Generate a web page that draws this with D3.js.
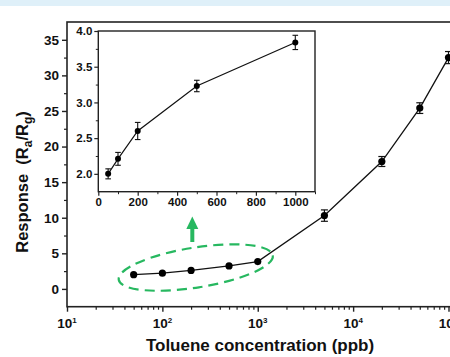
<!DOCTYPE html>
<html>
<head>
  <meta charset="utf-8">
  <title></title>
  <style>
    body { margin: 0; background: #fff; }
    svg { display: block; font-family: "Liberation Sans", Arial, sans-serif; font-weight: bold; }
  </style>
  <script src="https://d3js.org/d3.v7.min.js"></script>
</head>
<body>
  <svg id="chart" width="450" height="357"></svg>
  <script>
    // data
    const conc = [50, 100, 200, 500, 1000, 5000, 20000, 50000, 100000]
    const resp = [2.0, 2.21, 2.6, 3.23, 3.84, 10.3, 17.9, 25.4, 32.5]
    const errs = [0.07, 0.09, 0.12, 0.08, 0.1, 0.8, 0.7, 0.75, 0.85]
    const mainYTicks = [0, 5, 10, 15, 20, 25, 30, 35]
    const mainXTicks = [10, 100, 1000, 10000, 100000]
    const insetXTicks = [0, 200, 400, 600, 800, 1000]
    const insetYTicks = [2.0, 2.5, 3.0, 3.5, 4.0]

    const pts = conc.map((c, i) => ({ c: c, r: resp[i], e: errs[i] }))
    const insetPts = pts.filter(d => d.c <= 1000)

    const svg = d3.select("#chart")

    // light blue strip at the top of the page
    svg.append("rect").attr("x", 0).attr("y", 0).attr("width", 450).attr("height", 6)
      .attr("fill", "#dff0f9")

    // main plot
    const x = d3.scaleLog().domain([10, 100000]).range([67, 448.5])
    const y = d3.scaleLinear().domain([-2.5, 37.5]).range([306.7, 22])

    svg.append("rect")
      .attr("x", 67).attr("y", 22).attr("width", 400).attr("height", 306.7 - 22)
      .attr("fill", "none").attr("stroke", "#222").attr("stroke-width", 1.6)

    // y axis, major + minor ticks
    const yAxis = svg.append("g").attr("transform", "translate(67,0)")
      .call(d3.axisLeft(y).tickValues(mainYTicks).tickSize(5).tickPadding(3).tickFormat(d3.format("d")))
    yAxis.select(".domain").remove()
    yAxis.selectAll("line").attr("stroke", "#222").attr("stroke-width", 1.4)
    yAxis.selectAll("text").attr("font-size", 13.5).attr("font-weight", "bold").attr("fill", "#111")
      .attr("font-family", "Liberation Sans, Arial, sans-serif")
    const yMinor = svg.append("g").attr("transform", "translate(67,0)")
      .call(d3.axisLeft(y).tickValues([2.5, 7.5, 12.5, 17.5, 22.5, 27.5, 32.5]).tickSize(3).tickFormat(""))
    yMinor.select(".domain").remove()
    yMinor.selectAll("line").attr("stroke", "#222").attr("stroke-width", 1.2)

    // x axis (log)
    const xAxis = svg.append("g").attr("transform", "translate(0,306.7)")
      .call(d3.axisBottom(x).tickValues(mainXTicks).tickSize(5).tickFormat(""))
    xAxis.select(".domain").remove()
    xAxis.selectAll("line").attr("stroke", "#222").attr("stroke-width", 1.4)
    const minorX = []
    for (let dec = 10; dec < 100000; dec *= 10) {
      for (let k = 2; k <= 9; k++) minorX.push(dec * k)
    }
    const xMinor = svg.append("g").attr("transform", "translate(0,306.7)")
      .call(d3.axisBottom(x).tickValues(minorX).tickSize(3).tickFormat(""))
    xMinor.select(".domain").remove()
    xMinor.selectAll("line").attr("stroke", "#222").attr("stroke-width", 1.2)

    // power-of-ten labels (the last one is cut by the page edge, as in the figure)
    const xl = svg.append("g").selectAll("text").data(mainXTicks).enter().append("text")
      .attr("x", d => x(d)).attr("y", 328)
      .attr("text-anchor", "middle").attr("font-size", 13.5).attr("fill", "#111")
    xl.append("tspan").text("10")
    xl.append("tspan").attr("dy", -5).attr("font-size", 8).text(d => Math.round(Math.log10(d)))

    // axis titles
    svg.append("text").attr("x", 260).attr("y", 351).attr("text-anchor", "middle")
      .attr("font-size", 17).attr("fill", "#111").text("Toluene concentration (ppb)")
    const yt = svg.append("text").attr("transform", "translate(28,182) rotate(-90)")
      .attr("text-anchor", "middle").attr("font-size", 16.5).attr("fill", "#111")
    yt.append("tspan").text("Response\u00a0\u00a0(R")
    yt.append("tspan").attr("dy", 4).attr("font-size", 12).text("a")
    yt.append("tspan").attr("dy", -4).text("/R")
    yt.append("tspan").attr("dy", 4).attr("font-size", 12).text("g")
    yt.append("tspan").attr("dy", -4).text(")")

    // main line + error bars + markers
    const line = d3.line().x(d => x(d.c)).y(d => y(d.r))
    svg.append("path").datum(pts).attr("d", line)
      .attr("fill", "none").attr("stroke", "#111").attr("stroke-width", 1.3)
    const eb = svg.append("g").selectAll("g").data(pts).enter().append("g")
    eb.append("line").attr("x1", d => x(d.c)).attr("x2", d => x(d.c))
      .attr("y1", d => y(d.r - d.e)).attr("y2", d => y(d.r + d.e)).attr("stroke", "#111").attr("stroke-width", 1.2)
    eb.filter(d => d.c > 1000).selectAll(".cap").data(d => [d.r - d.e, d.r + d.e].map(v => ({ c: d.c, v: v })))
      .enter().append("line")
      .attr("x1", d => x(d.c) - 3.5).attr("x2", d => x(d.c) + 3.5)
      .attr("y1", d => y(d.v)).attr("y2", d => y(d.v)).attr("stroke", "#111").attr("stroke-width", 1.2)
    svg.append("g").selectAll("circle").data(pts).enter().append("circle")
      .attr("cx", d => x(d.c)).attr("cy", d => y(d.r)).attr("r", 3.6).attr("fill", "#000")

    // green dashed ellipse around the low-concentration points
    const green = "#27b860"
    const ecx = x(224), ecy = y(3.0)
    svg.append("ellipse")
      .attr("transform", `translate(${ecx},${ecy}) rotate(-9)`)
      .attr("rx", 78).attr("ry", 20)
      .attr("fill", "none").attr("stroke", green).attr("stroke-width", 2.2)
      .attr("stroke-dasharray", "10,6")

    // green arrow pointing up to the inset
    const ax = x(206)
    svg.append("line").attr("x1", ax).attr("x2", ax).attr("y1", 242).attr("y2", 227)
      .attr("stroke", green).attr("stroke-width", 4)
    svg.append("path")
      .attr("d", `M${ax - 6},229 L${ax},216.5 L${ax + 6},229 Z`).attr("fill", green)

    // inset
    const ix = d3.scaleLinear().domain([0, 1100]).range([98.3, 315])
    const iy = d3.scaleLinear().domain([1.75, 4.0]).range([191.7, 31])
    svg.append("rect").attr("x", 98.3).attr("y", 31).attr("width", 315 - 98.3).attr("height", 191.7 - 31)
      .attr("fill", "#fff").attr("stroke", "#222").attr("stroke-width", 1.4)

    const iyAxis = svg.append("g").attr("transform", "translate(98.3,0)")
      .call(d3.axisLeft(iy).tickValues(insetYTicks).tickSize(4).tickPadding(2).tickFormat(d3.format(".1f")))
    iyAxis.select(".domain").remove()
    iyAxis.selectAll("line").attr("stroke", "#222").attr("stroke-width", 1.2)
    iyAxis.selectAll("text").attr("font-size", 11.5).attr("font-weight", "bold").attr("fill", "#111")
      .attr("font-family", "Liberation Sans, Arial, sans-serif")
    const iyMinor = svg.append("g").attr("transform", "translate(98.3,0)")
      .call(d3.axisLeft(iy).tickValues([2.25, 2.75, 3.25, 3.75]).tickSize(2.5).tickFormat(""))
    iyMinor.select(".domain").remove()
    iyMinor.selectAll("line").attr("stroke", "#222")

    const ixAxis = svg.append("g").attr("transform", "translate(0,191.7)")
      .call(d3.axisBottom(ix).tickValues(insetXTicks).tickSize(4).tickPadding(2).tickFormat(d3.format("d")))
    ixAxis.select(".domain").remove()
    ixAxis.selectAll("line").attr("stroke", "#222").attr("stroke-width", 1.2)
    ixAxis.selectAll("text").attr("font-size", 11.5).attr("font-weight", "bold").attr("fill", "#111")
      .attr("font-family", "Liberation Sans, Arial, sans-serif")
    const ixMinor = svg.append("g").attr("transform", "translate(0,191.7)")
      .call(d3.axisBottom(ix).tickValues([100, 300, 500, 700, 900, 1100]).tickSize(2.5).tickFormat(""))
    ixMinor.select(".domain").remove()
    ixMinor.selectAll("line").attr("stroke", "#222")

    const iline = d3.line().x(d => ix(d.c)).y(d => iy(d.r))
    svg.append("path").datum(insetPts).attr("d", iline)
      .attr("fill", "none").attr("stroke", "#111").attr("stroke-width", 1.2)
    const ieb = svg.append("g").selectAll("g").data(insetPts).enter().append("g")
    ieb.append("line").attr("x1", d => ix(d.c)).attr("x2", d => ix(d.c))
      .attr("y1", d => iy(d.r - d.e)).attr("y2", d => iy(d.r + d.e)).attr("stroke", "#111").attr("stroke-width", 1.1)
    ieb.selectAll(".cap").data(d => [d.r - d.e, d.r + d.e].map(v => ({ c: d.c, v: v })))
      .enter().append("line")
      .attr("x1", d => ix(d.c) - 2.8).attr("x2", d => ix(d.c) + 2.8)
      .attr("y1", d => iy(d.v)).attr("y2", d => iy(d.v)).attr("stroke", "#111").attr("stroke-width", 1.1)
    svg.append("g").selectAll("circle").data(insetPts).enter().append("circle")
      .attr("cx", d => ix(d.c)).attr("cy", d => iy(d.r)).attr("r", 3).attr("fill", "#000")
  </script>
</body>
</html>
